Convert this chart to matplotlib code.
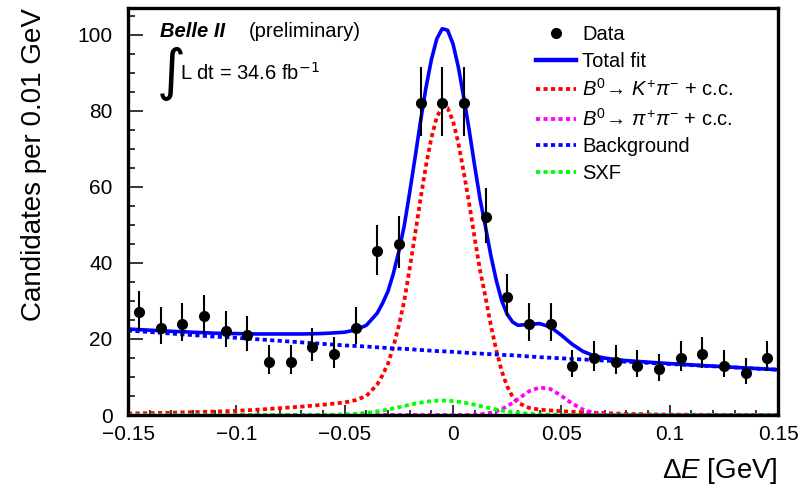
import numpy as np
import matplotlib
matplotlib.use("Agg")
import matplotlib.pyplot as plt
from matplotlib.lines import Line2D
from matplotlib.ticker import MultipleLocator, FixedLocator, FixedFormatter

plt.rcParams['font.family'] = ['Liberation Sans', 'DejaVu Sans']
plt.rcParams['mathtext.fontset'] = 'custom'
plt.rcParams['mathtext.rm'] = 'Liberation Sans'
plt.rcParams['mathtext.it'] = 'Liberation Sans:italic'
plt.rcParams['mathtext.bf'] = 'Liberation Sans:bold'

# binned data (bin width 0.01 GeV)
bin_centers = [-0.145, -0.135, -0.125, -0.115, -0.105, -0.095, -0.085, -0.075, -0.065, -0.055,
               -0.045, -0.035, -0.025, -0.015, -0.005, 0.005, 0.015, 0.025, 0.035, 0.045,
               0.055, 0.065, 0.075, 0.085, 0.095, 0.105, 0.115, 0.125, 0.135, 0.145]
counts = [27, 23, 24, 26, 22, 21, 14, 14, 18, 16,
          23, 43, 45, 82, 82, 82, 52, 31, 24, 24,
          13, 15, 14, 13, 12, 15, 16, 13, 11, 15]

# sampling points of the fit curves
x_fit = np.concatenate([np.arange(-0.150, -0.0349, 0.005),
                        np.arange(-0.0325, 0.0301, 0.0025),
                        np.arange(0.035, 0.1501, 0.005)])

background = [22.2, 22.0, 21.8, 21.6, 21.4, 21.2, 21.0, 20.8, 20.6, 20.45, 20.3, 20.1,
              19.9, 19.7, 19.5, 19.3, 19.1, 18.9, 18.7, 18.5, 18.3, 18.15, 18.0, 17.8,
              17.7, 17.6, 17.5, 17.45, 17.4, 17.3, 17.2, 17.1, 17.0, 16.9, 16.8, 16.75, 16.7,
              16.6, 16.5, 16.4, 16.3, 16.2, 16.15, 16.05, 16.0, 15.9, 15.8, 15.75, 15.7, 15.6,
              15.4, 15.2, 15.05, 14.9, 14.75, 14.6, 14.45, 14.3, 14.15, 14.0, 13.85, 13.7,
              13.55, 13.4, 13.25, 13.1, 12.95, 12.8, 12.65, 12.5, 12.35, 12.2, 12.05, 11.9]

kpi = [0.4, 0.45, 0.5, 0.55, 0.6, 0.7, 0.75, 0.85, 0.9, 1.0, 1.1, 1.25,
       1.4, 1.6, 1.8, 2.0, 2.2, 2.45, 2.7, 3.0, 3.3, 3.9, 5.0, 8.0,
       10.5, 13.5, 18.0, 23.5, 30.0, 38.5, 47.5, 56.8, 65.5, 72.8, 78.3, 81.0, 80.7,
       77.3, 71.4, 63.7, 55.5, 46.5, 38.0, 31.0, 23.5, 17.0, 11.5, 7.5, 4.8, 3.2,
       1.9, 1.4, 1.2, 1.0, 0.85, 0.7, 0.6, 0.5, 0.4, 0.3, 0.25, 0.2,
       0.15, 0.12, 0.1, 0.08, 0.06, 0.05, 0.04, 0.03, 0.02, 0.02, 0.01, 0.01]

pipi = [0] * 24 + \
       [0] * 17 + [0.09, 0.18, 0.34, 0.6, 0.99, 1.55, 2.3, 3.2, 4.2] + \
       [6.2, 7.26, 6.8, 5.06, 3.0, 1.42, 0.53, 0.16, 0.04] + [0] * 15

sxf = [0] * 18 + [0.03, 0.08, 0.17, 0.32, 0.58, 0.95] + \
      [1.18, 1.44, 1.73, 2.05, 2.37, 2.69, 3.0, 3.26, 3.48, 3.66, 3.77, 3.8, 3.77,
       3.66, 3.48, 3.26, 3.0, 2.69, 2.37, 2.05, 1.73, 1.44, 1.18, 0.95, 0.75, 0.58] + \
      [0.32, 0.17, 0.08, 0.03] + [0] * 20

xtick_labels = ['\u22120.15', '\u22120.1', '\u22120.05', '0', '0.05', '0.1', '0.15']

counts = np.array(counts, dtype=float)
total = np.array(background) + np.array(kpi) + np.array(pipi) + np.array(sxf)
err_lo = np.sqrt(counts + 0.25) - 0.5
err_hi = np.sqrt(counts + 0.25) + 0.5

fig = plt.figure(figsize=(8.05, 4.9), dpi=100)
ax = fig.add_axes([128 / 805, 1 - 415 / 490, 650 / 805, 407 / 490])

dot = (0, (1.1, 0.9))
ax.plot(x_fit, kpi, color='#ff0000', lw=2.7, ls=dot, zorder=2)
ax.plot(x_fit, pipi, color='#ff00ff', lw=2.7, ls=dot, zorder=2)
ax.plot(x_fit, background, color='#0000ff', lw=2.7, ls=dot, zorder=2)
ax.plot(x_fit, sxf, color='#00ff00', lw=2.7, ls=dot, zorder=2)
ax.plot(x_fit, total, color='#0000ff', lw=2.6, zorder=3)
ax.errorbar(bin_centers, counts, yerr=[err_lo, err_hi], fmt='o', color='black',
            ms=7, elinewidth=1.5, capsize=0, zorder=4)

ax.set_xlim(-0.15, 0.15)
ax.set_ylim(0, 107)
for s in ax.spines.values():
    s.set_linewidth(2.4)
    s.set_zorder(5)

ax.xaxis.set_major_locator(FixedLocator([-0.15, -0.1, -0.05, 0, 0.05, 0.1, 0.15]))
ax.xaxis.set_major_formatter(FixedFormatter(xtick_labels))
ax.xaxis.set_minor_locator(MultipleLocator(0.01))
ax.yaxis.set_major_locator(MultipleLocator(20))
ax.yaxis.set_minor_locator(MultipleLocator(5))
ax.tick_params(axis='both', which='both', direction='in', labelsize=15, color='black')
ax.tick_params(axis='x', which='major', length=7, width=1.1, pad=7.5)
ax.tick_params(axis='x', which='minor', length=3.5, width=1.1)
ax.tick_params(axis='y', which='major', length=11, width=1.1, pad=11)
ax.tick_params(axis='y', which='minor', length=5, width=1.1)

ax.set_ylabel('Candidates per 0.01 GeV', fontsize=20, loc='top', labelpad=22)
ax.set_xlabel(r'$\Delta E$ [GeV]', fontsize=20, loc='right', labelpad=8)

fig.text(160 / 805, 1 - 37 / 490, 'Belle II', fontsize=14.5, fontweight='bold',
         fontstyle='italic')
fig.text(249 / 805, 1 - 37 / 490, '(preliminary)', fontsize=14.5)
fig.text(157 / 805, 1 - 74 / 490, '\u222b', fontsize=40, family=['DejaVu Sans'],
         va='center')
fig.text(180 / 805, 1 - 80 / 490, r'L dt = 34.6 fb$^{\mathsf{-1}}$', fontsize=14.5)

handles = [
    Line2D([], [], marker='o', color='black', ls='none', ms=7),
    Line2D([], [], color='#0000ff', lw=3.2),
    Line2D([], [], color='#ff0000', lw=2.7, ls=dot),
    Line2D([], [], color='#ff00ff', lw=2.7, ls=dot),
    Line2D([], [], color='#0000ff', lw=2.7, ls=dot),
    Line2D([], [], color='#00ff00', lw=2.7, ls=dot),
]
labels = ['Data', 'Total fit',
          r'$B^0\!\rightarrow\, K^{+}\pi^{-}$ + c.c.',
          r'$B^0\!\rightarrow\, \pi^{+}\pi^{-}$ + c.c.',
          'Background', 'SXF']
ax.legend(handles, labels, loc='upper left', bbox_to_anchor=((536 - 128) / 650, 1 - 17 / 407),
          frameon=False, fontsize=14.5, handlelength=2.0, handletextpad=0.3,
          labelspacing=0.38, borderpad=0, borderaxespad=0)

fig.savefig('out.png', dpi=100)
